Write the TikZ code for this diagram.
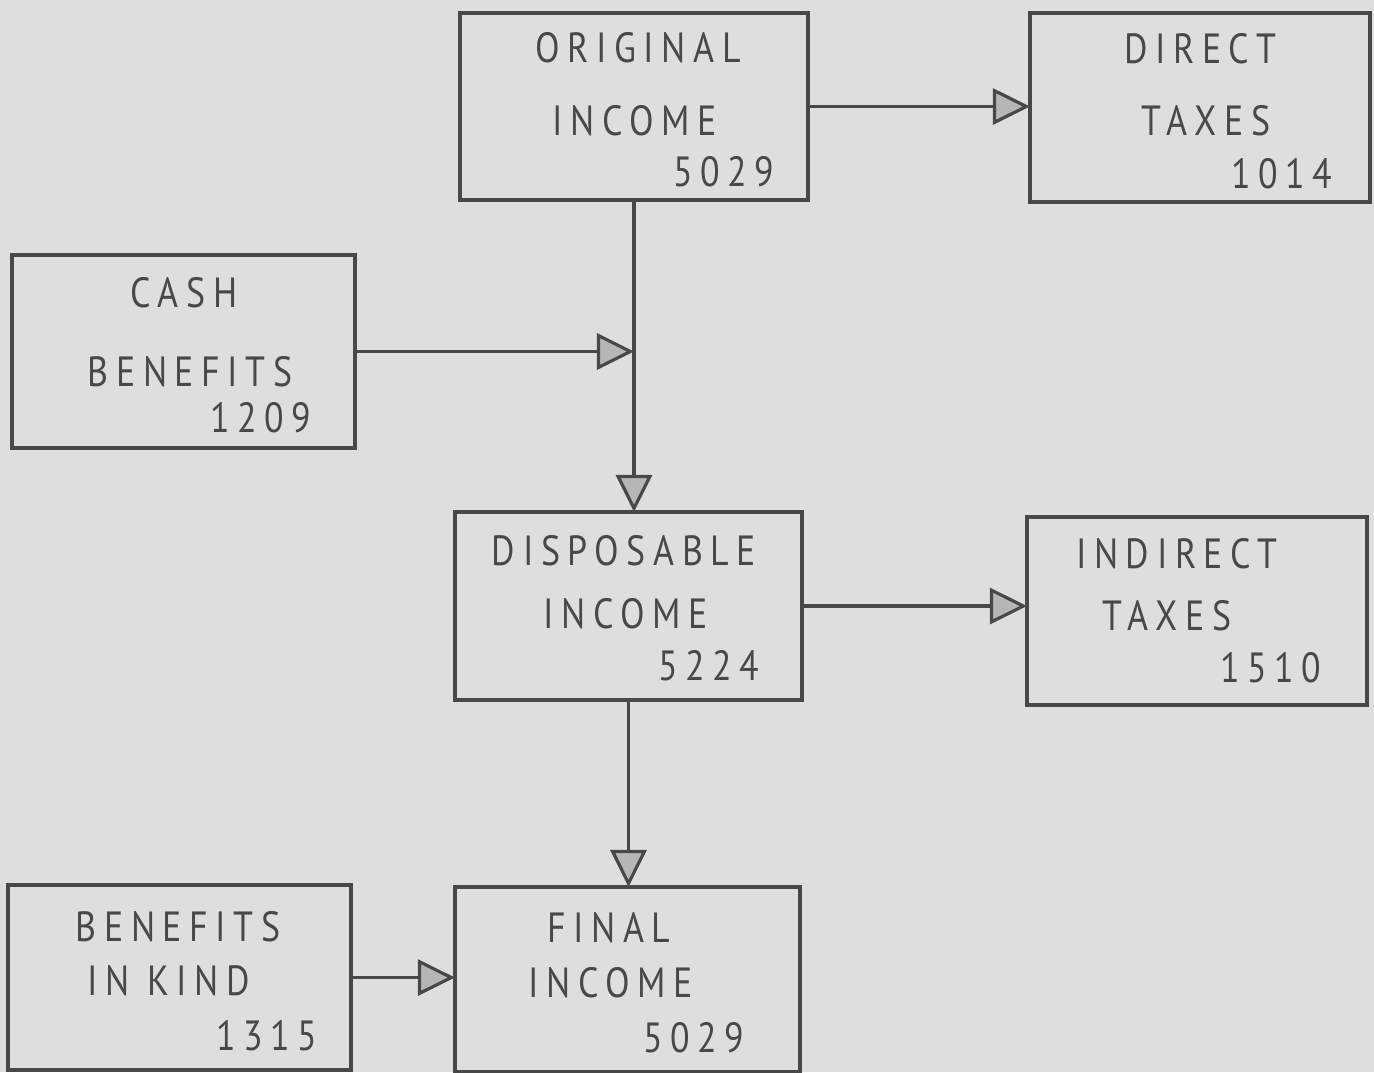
\documentclass[tikz,border=0pt]{standalone}
\usepackage{fontspec}
\setmainfont{PT Sans}[LetterSpace=18,FakeStretch=0.85]
\usetikzlibrary{arrows.meta,calc}
\definecolor{paper}{RGB}{222,222,220}
\definecolor{ink}{RGB}{72,72,72}
\definecolor{headfill}{RGB}{182,182,182}

\begin{document}
\begin{tikzpicture}[x=0.01cm,y=-0.01cm,
	box/.style={draw=ink,line width=1pt,inner sep=0pt,outer sep=0pt},
	lbl/.style={text=ink,anchor=base,inner sep=0pt,font=\fontsize{12}{14}\selectfont},
	num/.style={lbl,anchor=base east},
	flow/.style={draw=ink,line width=0.9pt,-{Triangle[length=0.37cm,width=0.36cm,fill=headfill]}}]

	\fill[paper] (0,0) rectangle (1374,1072);
	\useasboundingbox (0,0) rectangle (1374,1072);

	% boxes
	\node[box,minimum width=3.48cm,minimum height=1.87cm] (orig) at (634,106.5) {};
	\node[box,minimum width=3.40cm,minimum height=1.89cm] (direct) at (1200,107.5) {};
	\node[box,minimum width=3.43cm,minimum height=1.93cm] (cash) at (183.5,351.5) {};
	\node[box,minimum width=3.47cm,minimum height=1.88cm] (disp) at (628.5,606) {};
	\node[box,minimum width=3.40cm,minimum height=1.88cm] (indirect) at (1197,611) {};
	\node[box,minimum width=3.43cm,minimum height=1.85cm] (kind) at (179.5,977.5) {};
	\node[box,minimum width=3.45cm,minimum height=1.85cm] (final) at (627.5,979.5) {};

	% words
	\foreach \x/\y/\t/\n in {638/62/ORIGINAL/o1,635/135/INCOME/o2,1200/63/DIRECT/d1,1206/135/TAXES/d2,
		184/307/CASH/c1,190/386/BENEFITS/c2,624/565/DISPOSABLE/p1,626/628/INCOME/p2,
		1177/568/INDIRECT/i1,1167/630/TAXES/i2,178/941/BENEFITS/k1,169/995/IN KIND/k2,
		609/942/FINAL/f1,611/997/INCOME/f2}
		\node[lbl] (\n) at (\x,\y) {\t};

	% figures
	\foreach \x/\y/\t/\n in {775/186/5029/o3,1333/188/1014/d3,312/432/1209/c3,
		760/680/5224/p3,1322/682/1510/i3,318/1050/1315/k3,745/1052/5029/f3}
		\node[num] (\n) at (\x,\y) {\t};

	% flows
	\draw[flow] (orig.east) -- (orig.east -| direct.west);
	\coordinate (join) at (cash.east -| orig.south);
	\draw[flow] (orig.south) -- (orig.south |- disp.north);
	\draw[flow] (cash.east) -- (join);
	\draw[flow] (disp.east) -- (disp.east -| indirect.west);
	\draw[flow] (disp.south) -- (disp.south |- final.north);
	\draw[flow] (kind.east) -- (kind.east -| final.west);
\end{tikzpicture}
\end{document}
